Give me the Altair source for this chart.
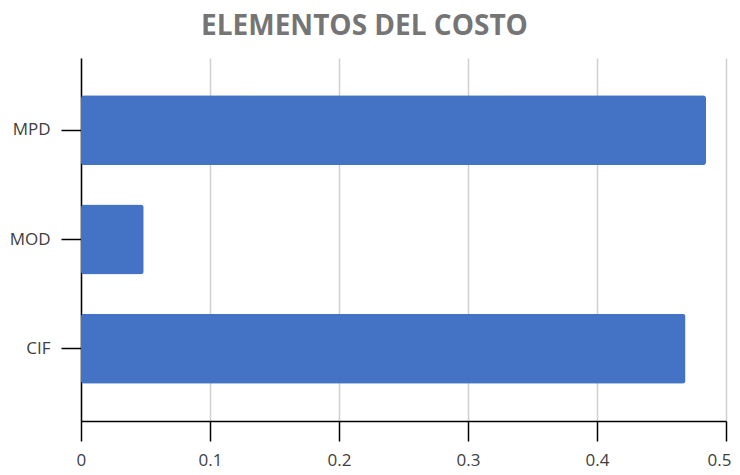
import altair as alt
import pandas as pd

categories = ["MPD", "MOD", "CIF"]
values = [0.4845, 0.0486, 0.4686]
x_ticks = [0, 0.1, 0.2, 0.3, 0.4, 0.5]

df = pd.DataFrame({"cat": categories, "val": values})

FONT = "Open Sans"

chart = alt.Chart(df).mark_bar(color="#4472C4", cornerRadius=3).encode(
    y=alt.Y(
        "cat:N",
        sort=categories,
        scale=alt.Scale(paddingInner=0.36, paddingOuter=0.34),
        axis=alt.Axis(
            title=None,
            domainColor="#000000",
            domainWidth=1.5,
            tickColor="#000000",
            tickWidth=1.5,
            tickSize=20,
            labelPadding=11,
            labelFont=FONT,
            labelFontSize=17,
            labelColor="#404040",
            grid=False,
        ),
    ),
    x=alt.X(
        "val:Q",
        scale=alt.Scale(domain=[0, 0.5], nice=False, zero=True),
        axis=alt.Axis(
            title=None,
            values=x_ticks,
            format="~f",
            labelFlush=True,
            labelFlushOffset=5,
            domainColor="#000000",
            domainWidth=1.5,
            tickColor="#000000",
            tickWidth=1.5,
            tickSize=20,
            labelPadding=11,
            labelFont=FONT,
            labelFontSize=17,
            labelColor="#404040",
            grid=True,
            gridColor="#d0d0d0",
            gridWidth=1.5,
        ),
    ),
).properties(
    width=645,
    height=363,
    autosize=alt.AutoSizeParams(type="none"),
    padding={"left": 73, "top": 50, "right": 6, "bottom": 50},
    title=alt.TitleParams(
        text="ELEMENTOS DEL COSTO",
        font=FONT,
        fontSize=28,
        fontWeight="bold",
        color="#757575",
        anchor="middle",
        dx=-39,
        offset=17,
    ),
).configure_view(stroke=None)

chart.save("out.html", embed_options={"renderer": "svg", "actions": False})
